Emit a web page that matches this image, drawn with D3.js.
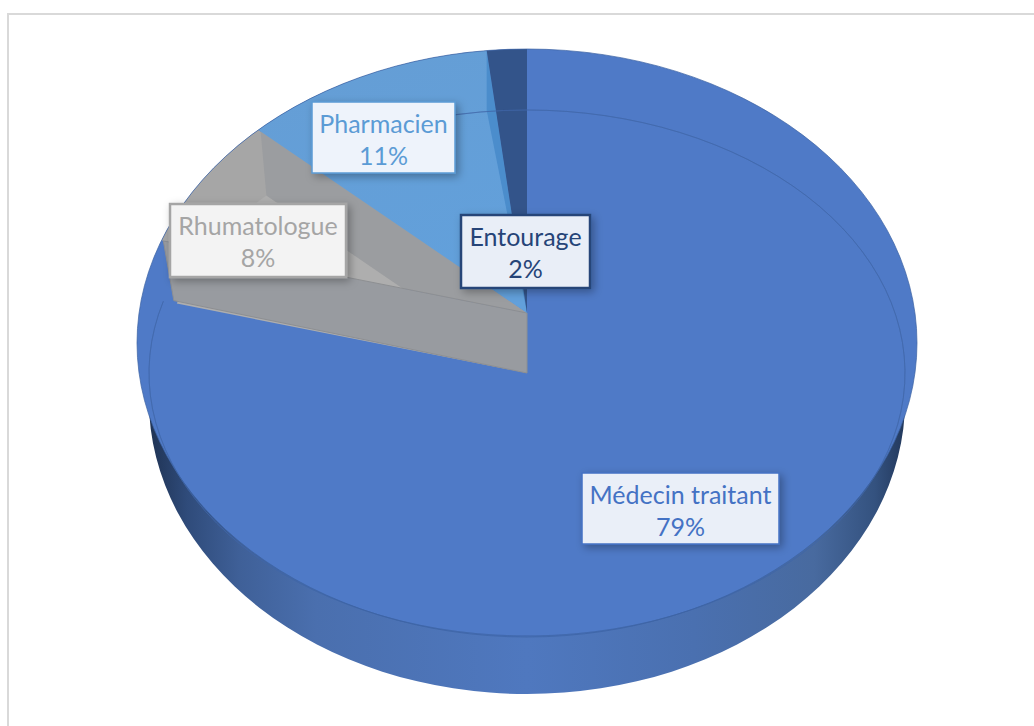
<!DOCTYPE html>
<html>
<head>
<meta charset="utf-8">
<script src="https://cdn.jsdelivr.net/npm/d3@7"></script>
<style>
	html,body{margin:0;padding:0;background:#fff;overflow:hidden;}
	svg{display:block;}
	text{font-family:Lato,"Open Sans",sans-serif;font-size:25px;text-anchor:middle;}
</style>
</head>
<body>
<div id="chart"></div>
<script>
//data
const categories = ["Médecin traitant","Rhumatologue","Pharmacien","Entourage"];
const values = [79.4,7.9,11.0,1.7];//labels round them
const colors = ["#4f7ac7","#a6a6a6","#659fd6","#33548a"];
const textColors = ["#4472c4","#a5a5a5","#5b9bd5","#264478"];

//label boxes are placed by hand
const boxLeft = [582,170,312,461];
const boxTop = [473,204,102,215];
const boxWidth = [197,176,143,129];
const boxHeight = [71,73,71,73];
const boxFill = ["#eaeff8","#f3f3f3","#eef3fb","#e9eef7"];
const boxStrokeWidth = [1.5,2.5,1.5,2.5];

const width = 1034, height = 726;
const cx = 527;
const k = 264/378;//tilt of the pie
const R = 378;
const topY = 313, floorY = 373, faceY = 343, bottomY = 400;

const svg = d3.select("#chart").append("svg")
	.attr("width",width)
	.attr("height",height);
const defs = svg.append("defs");

//side gradient, x is relative to the pie centre
const sideGrad = defs.append("linearGradient")
	.attr("id","sideGrad")
	.attr("gradientUnits","userSpaceOnUse")
	.attr("x1",-R).attr("x2",R).attr("y1",0).attr("y2",0);
[[0,"#1f3354"],[0.05,"#2f4b7a"],[0.12,"#3f6098"],[0.22,"#4a6fae"],[0.5,"#4f78bf"],[0.72,"#4a70b0"],[0.88,"#486a9f"],[0.96,"#34527f"],[1,"#22385c"]]
	.forEach(function(s){
		sideGrad.append("stop").attr("offset",s[0]).attr("stop-color",s[1]);
	});

const blueGrad = defs.append("linearGradient")
	.attr("id","blueGrad")
	.attr("x1",0).attr("x2",0.3).attr("y1",0).attr("y2",1);
blueGrad.append("stop").attr("offset",0).attr("stop-color","#669dd3");
blueGrad.append("stop").attr("offset",1).attr("stop-color","#62a0db");

defs.append("clipPath").attr("id","faceClip")
	.append("ellipse")
	.attr("cx",cx).attr("cy",faceY).attr("rx",390).attr("ry",294);

const shadow = defs.append("filter").attr("id","boxShadow")
	.attr("x","-20%").attr("y","-20%").attr("width","140%").attr("height","150%");
shadow.append("feDropShadow")
	.attr("dx",3).attr("dy",3).attr("stdDeviation",4)
	.attr("flood-color","#000").attr("flood-opacity",0.3);

//chart frame
svg.append("path")
	.attr("d","M8,726V14H1034")
	.attr("fill","none")
	.attr("stroke","#d9d9d9")
	.attr("stroke-width",2);

const slices = d3.pie().sort(null).value(function(d){return d;})(values);
const med = slices[0], rhu = slices[1], pha = slices[2], ent = slices[3];

//point on a tilted circle
function pt(y0,angle,r){
	return [cx+r*Math.sin(angle),y0-r*k*Math.cos(angle)];
}

function wedge(parent,y0,r,a0,a1,fill){
	return parent.append("path")
		.attr("transform","translate("+cx+","+y0+") scale(1,"+k+")")
		.attr("d",d3.arc()({innerRadius:0,outerRadius:r,startAngle:a0,endAngle:a1}))
		.attr("fill",fill);
}

function polygon(parent,points,fill){
	return parent.append("path")
		.attr("d",d3.line()(points)+"Z")
		.attr("fill",fill);
}

function ellipse(y0,rx,ry,fill){
	return svg.append("path")
		.attr("transform","translate("+cx+","+y0+") scale(1,"+(ry/rx)+")")
		.attr("d",d3.arc()({innerRadius:0,outerRadius:rx,startAngle:0,endAngle:2*Math.PI}))
		.attr("fill",fill);
}

//side, then the face
ellipse(bottomY,R,294,"url(#sideGrad)");
ellipse(faceY,390,294,colors[0]);

//inner ring, only where the blue face shows
function ring(a0,a1){
	svg.append("path")
		.attr("transform","translate("+cx+","+floorY+") scale(1,"+(263/R)+")")
		.attr("d",d3.arc()({innerRadius:R,outerRadius:R,startAngle:a0,endAngle:a1}))
		.attr("fill","none")
		.attr("stroke","#3f66a8")
		.attr("stroke-opacity",0.55)
		.attr("stroke-width",1)
		.attr("vector-effect","non-scaling-stroke");
}
ring(med.startAngle,med.endAngle);

//removed wedges
const cut = svg.append("g").attr("clip-path","url(#faceClip)");

//grey wedge: rim, floor, far wall, front wall
wedge(cut,topY,450,rhu.startAngle,rhu.endAngle,colors[1]);
wedge(cut,floorY,364,rhu.startAngle,rhu.endAngle,"#aeaeae");

const rimEnd = pt(topY,rhu.endAngle,R);
const floorEnd = pt(floorY,rhu.endAngle,364);
const rimStart = pt(topY,rhu.startAngle,R);
const floorStart = pt(floorY,rhu.startAngle,364);
const apexTop = [cx,topY], apexFloor = [cx,floorY];

//where the far wall foot meets the front top edge
const t = (floorY-topY)/((floorY-floorEnd[1])/(cx-floorEnd[0])-(topY-rimStart[1])/(cx-rimStart[0]));
const foot = [cx-t,topY-t*(topY-rimStart[1])/(cx-rimStart[0])];

polygon(cut,[[rimEnd[0]+4,rimEnd[1]],[floorEnd[0],floorEnd[1]],foot,apexTop],"#9b9da0");
polygon(cut,[apexTop,rimStart,[floorStart[0]-3,floorStart[1]-3],apexFloor],"#989ba0")
	.attr("stroke","#8d8f92")
	.attr("stroke-width",1);

//light blue wedge and its wall against the dark one
wedge(cut,topY,450,pha.startAngle,pha.endAngle,"url(#blueGrad)");
const phaRim = pt(topY,pha.endAngle,R);
polygon(cut,[phaRim,[phaRim[0],phaRim[1]+60],apexTop],"#4b8dcc");

//dark wedge
wedge(cut,topY,450,ent.startAngle,ent.endAngle,colors[3]);

//the ring shows again near the top, right of the Pharmacien label
ring(pha.endAngle-0.14,ent.endAngle);

//outline of the face
svg.append("ellipse")
	.attr("cx",cx).attr("cy",faceY).attr("rx",390).attr("ry",294)
	.attr("fill","none")
	.attr("stroke","#3c62a3")
	.attr("stroke-opacity",0.7)
	.attr("stroke-width",1);

//labels
const labels = svg.selectAll(".label")
	.data(categories)
	.enter()
	.append("g")
	.attr("class","label");

labels.append("rect")
	.attr("x",function(d,i){return boxLeft[i];})
	.attr("y",function(d,i){return boxTop[i];})
	.attr("width",function(d,i){return boxWidth[i];})
	.attr("height",function(d,i){return boxHeight[i];})
	.attr("fill",function(d,i){return boxFill[i];})
	.attr("stroke",function(d,i){return textColors[i];})
	.attr("stroke-width",function(d,i){return boxStrokeWidth[i];})
	.attr("filter","url(#boxShadow)");

labels.append("text")
	.attr("x",function(d,i){return boxLeft[i]+boxWidth[i]/2;})
	.attr("y",function(d,i){return boxTop[i]+31;})
	.attr("fill",function(d,i){return textColors[i];})
	.text(function(d){return d;});

labels.append("text")
	.attr("x",function(d,i){return boxLeft[i]+boxWidth[i]/2;})
	.attr("y",function(d,i){return boxTop[i]+63;})
	.attr("fill",function(d,i){return textColors[i];})
	.text(function(d,i){return Math.round(values[i])+"%";});
</script>
</body>
</html>
